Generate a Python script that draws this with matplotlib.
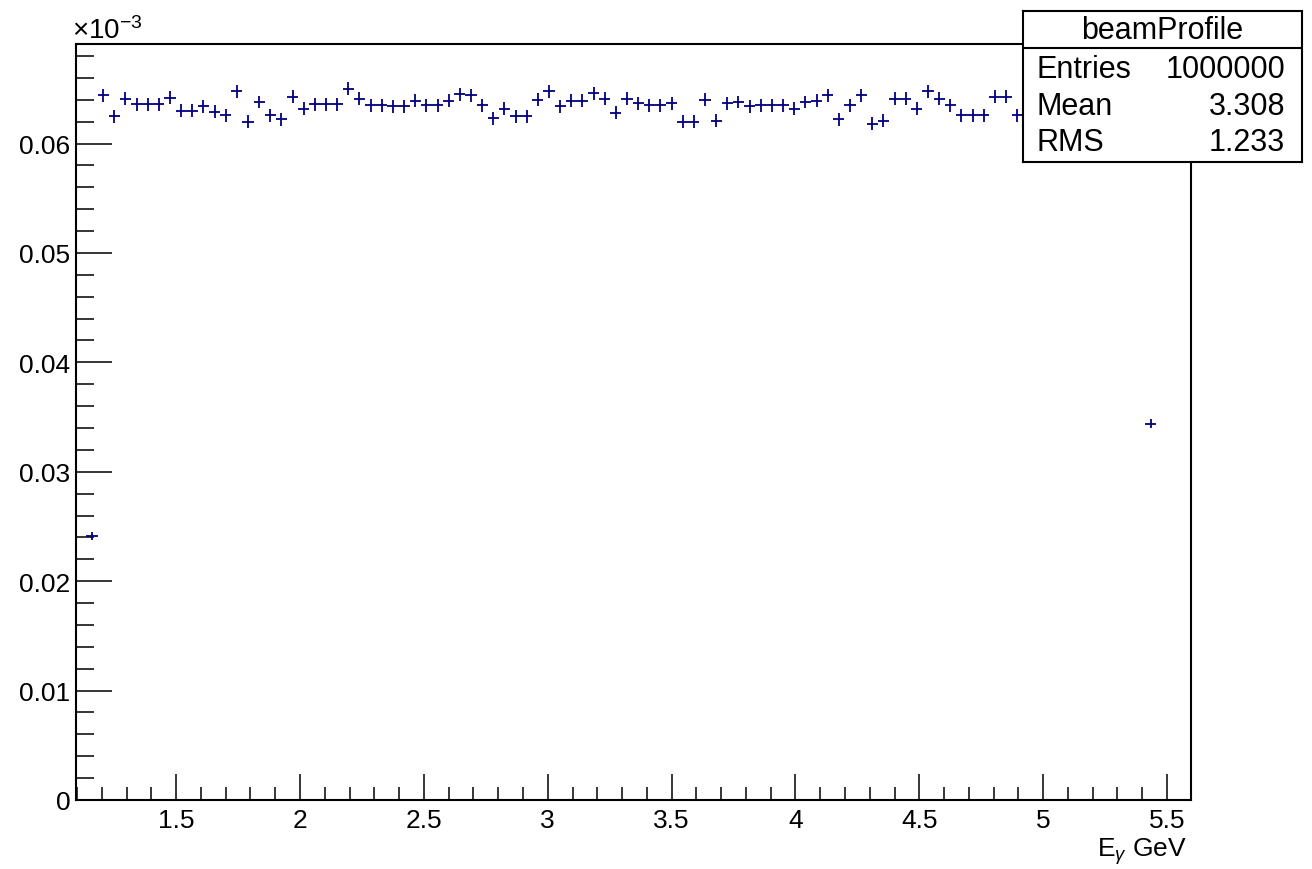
import numpy as np
import matplotlib

matplotlib.use("Agg")
import matplotlib.pyplot as plt
from matplotlib.ticker import FuncFormatter, MultipleLocator

plt.rcParams["font.family"] = ["Liberation Sans", "DejaVu Sans"]
plt.rcParams["mathtext.fontset"] = "custom"
plt.rcParams["mathtext.rm"] = "Liberation Sans"
plt.rcParams["mathtext.it"] = "Liberation Sans:italic"

# histogram "beamProfile", values shown in units of 1e-3
BIN_WIDTH = 0.045
FIRST_CENTER = 1.16
bin_values = [
    0.0241, 0.0644, 0.0625, 0.0641, 0.0636, 0.0636, 0.0636, 0.0642, 0.0630, 0.0630,
    0.0634, 0.0629, 0.0626, 0.0648, 0.0620, 0.0638, 0.0626, 0.0622, 0.0643, 0.0632,
    0.0636, 0.0636, 0.0636, 0.0650, 0.0641, 0.0635, 0.0635, 0.0634, 0.0634, 0.0639,
    0.0635, 0.0635, 0.0639, 0.0645, 0.0644, 0.0635, 0.0623, 0.0632, 0.0625, 0.0625,
    0.0640, 0.0648, 0.0634, 0.0639, 0.0639, 0.0646, 0.0641, 0.0628, 0.0641, 0.0637,
    0.0635, 0.0635, 0.0637, 0.0620, 0.0620, 0.0640, 0.0621, 0.0637, 0.0638, 0.0634,
    0.0635, 0.0635, 0.0635, 0.0632, 0.0638, 0.0639, 0.0644, 0.0622, 0.0635, 0.0644,
    0.0618, 0.0621, 0.0641, 0.0641, 0.0632, 0.0648, 0.0641, 0.0635, 0.0626, 0.0626,
    0.0626, 0.0643, 0.0643, 0.0626, 0.0637, 0.0633, 0.0641, 0.0629, 0.0636, 0.0640,
    0.0632, 0.0635, 0.0638, 0.0631, 0.0636, 0.0344,
]
stats_rows = [("Entries", "1000000"), ("Mean", "3.308"), ("RMS", "1.233")]
hist_name = "beamProfile"
x_title = r"E$_{\gamma}$ GeV"

W, H = 1312, 870
values = np.array(bin_values)
centers = FIRST_CENTER + BIN_WIDTH * np.arange(len(values))
errors = np.sqrt(values * 5.5e-6)

fig = plt.figure(figsize=(W / 100, H / 100), dpi=100)
fig.patch.set_facecolor("white")
ax = fig.add_axes([76 / W, 1 - 801 / H, (1191 - 76) / W, (801 - 45) / H])

ax.errorbar(centers, values, xerr=BIN_WIDTH / 2, yerr=errors, fmt="none",
            ecolor="#000080", elinewidth=1.3, capsize=0)

ax.set_xlim(1.0956, 5.5968)
ax.set_ylim(0, 0.0691)
ax.xaxis.set_major_locator(MultipleLocator(0.5))
ax.xaxis.set_minor_locator(MultipleLocator(0.1))
ax.yaxis.set_major_locator(MultipleLocator(0.01))
ax.yaxis.set_minor_locator(MultipleLocator(0.002))
fmt = FuncFormatter(lambda v, pos: "%g" % round(v, 4))
ax.xaxis.set_major_formatter(fmt)
ax.yaxis.set_major_formatter(fmt)

ax.tick_params(axis="x", which="major", direction="in", length=19, width=1.1,
               labelsize=19, pad=6, top=False)
ax.tick_params(axis="x", which="minor", direction="in", length=9.5, width=1.1, top=False)
ax.tick_params(axis="y", which="major", direction="in", length=26, width=1.1,
               labelsize=19, pad=4, right=False)
ax.tick_params(axis="y", which="minor", direction="in", length=13, width=1.1, right=False)
for spine in ax.spines.values():
    spine.set_linewidth(1.5)

ax.text(-0.004, 1.0, r"$\times$10$^{-3}$", transform=ax.transAxes,
        ha="left", va="bottom", fontsize=20)
fig.text(1187 / W, 1 - 836 / H, x_title, ha="right", va="top", fontsize=19)

# stats box
sax = fig.add_axes([1023 / W, 1 - 163 / H, (1302 - 1023) / W, (163 - 12) / H])
sax.set_xlim(0, 1)
sax.set_ylim(0, 1)
sax.set_xticks([])
sax.set_yticks([])
sax.set_facecolor("white")
for spine in sax.spines.values():
    spine.set_linewidth(1.5)
box_h = 163 - 12
sax.axhline((163 - 49) / box_h, color="black", linewidth=1.5)
sax.text(0.5, (163 - 31) / box_h, hist_name, ha="center", va="center", fontsize=22)
row_y = [70, 107, 143]
for (label, val), y in zip(stats_rows, row_y):
    sax.text(0.05, (163 - y) / box_h, label, ha="left", va="center", fontsize=22)
    sax.text(0.94, (163 - y) / box_h, val, ha="right", va="center", fontsize=22)

fig.savefig("out.png", dpi=100)
